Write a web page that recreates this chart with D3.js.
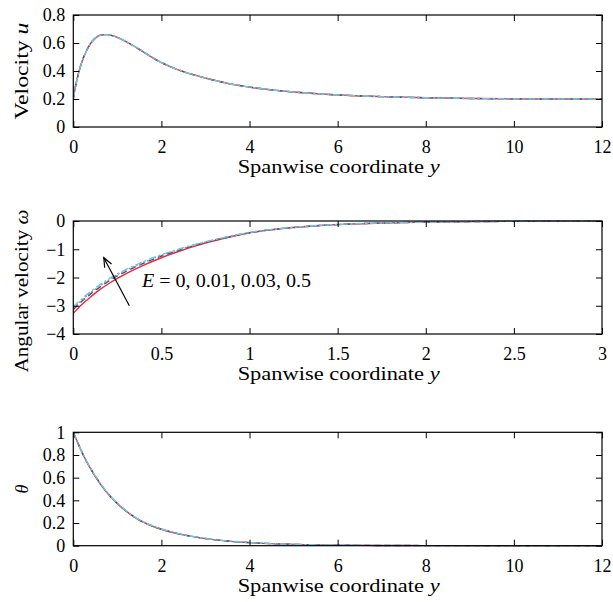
<!DOCTYPE html>
<html><head><meta charset="utf-8">
<script src="https://cdn.jsdelivr.net/npm/d3@7"></script>
<style>body{margin:0;background:#fff}svg{display:block}text{font-family:"Liberation Serif","Times New Roman",serif;fill:#000}</style>
</head><body>
<script>
// ---------- data ----------
const seriesNames = ["E = 0", "E = 0.01", "E = 0.03", "E = 0.5"];

const xU = [0,0.05,0.1,0.15,0.2,0.3,0.4,0.5,0.6,0.7,0.8,1.0,1.25,1.5,1.75,2,2.5,3,3.5,4,4.5,5,6,7,8,9,10,11,12];
const uE0   = [0.2,0.29,0.36,0.42,0.47,0.545,0.6,0.635,0.655,0.66,0.658,0.64,0.6,0.555,0.505,0.46,0.395,0.35,0.312,0.285,0.265,0.25,0.229,0.217,0.209,0.204,0.201,0.2,0.2];
const uE001 = [0.2,0.29,0.36,0.42,0.47,0.545,0.6,0.635,0.655,0.66,0.658,0.64,0.6,0.555,0.505,0.46,0.395,0.35,0.312,0.285,0.265,0.25,0.229,0.217,0.209,0.204,0.201,0.2,0.2];
const uE003 = [0.2,0.29,0.36,0.42,0.47,0.545,0.6,0.635,0.655,0.66,0.658,0.64,0.6,0.555,0.505,0.46,0.395,0.35,0.312,0.285,0.265,0.25,0.229,0.217,0.209,0.204,0.201,0.2,0.2];
const uE05  = [0.2,0.29,0.36,0.42,0.47,0.545,0.6,0.635,0.655,0.66,0.658,0.64,0.6,0.555,0.505,0.46,0.395,0.35,0.312,0.285,0.265,0.25,0.229,0.217,0.209,0.204,0.201,0.2,0.2];

const xW = [0,0.05,0.1,0.15,0.2,0.25,0.3,0.4,0.5,0.6,0.7,0.8,0.9,1.0,1.2,1.4,1.6,1.8,2.0,2.25,2.5,2.75,3];
const wE0   = [-3.27,-2.95,-2.68,-2.43,-2.22,-2.03,-1.86,-1.56,-1.3,-1.07,-0.87,-0.7,-0.55,-0.42,-0.26,-0.16,-0.1,-0.065,-0.04,-0.022,-0.012,-0.006,-0.003];
const wE001 = [-3.13,-2.83,-2.57,-2.34,-2.13,-1.94,-1.78,-1.49,-1.24,-1.03,-0.84,-0.68,-0.54,-0.415,-0.26,-0.16,-0.1,-0.065,-0.04,-0.022,-0.012,-0.006,-0.003];
const wE003 = [-3.08,-2.79,-2.53,-2.3,-2.09,-1.9,-1.74,-1.46,-1.21,-1.01,-0.83,-0.67,-0.53,-0.41,-0.255,-0.158,-0.1,-0.065,-0.04,-0.022,-0.012,-0.006,-0.003];
const wE05  = [-3.03,-2.74,-2.49,-2.26,-2.05,-1.87,-1.71,-1.43,-1.19,-0.99,-0.81,-0.66,-0.52,-0.40,-0.25,-0.155,-0.098,-0.064,-0.04,-0.022,-0.012,-0.006,-0.003];

const xT = [0,0.25,0.5,0.75,1,1.25,1.5,1.75,2,2.5,3,3.5,4,5,6,7,8,10,12];
const tE0   = [1,0.78,0.61,0.475,0.37,0.29,0.225,0.18,0.145,0.095,0.062,0.04,0.027,0.012,0.005,0.002,0.001,0,0];
const tE001 = [1,0.782,0.612,0.477,0.372,0.291,0.226,0.181,0.146,0.096,0.063,0.041,0.027,0.012,0.005,0.002,0.001,0,0];
const tE003 = [1,0.783,0.613,0.478,0.373,0.292,0.227,0.182,0.147,0.096,0.063,0.041,0.028,0.012,0.005,0.002,0.001,0,0];
const tE05  = [1,0.785,0.615,0.48,0.375,0.293,0.228,0.183,0.148,0.097,0.064,0.042,0.028,0.012,0.005,0.002,0.001,0,0];

const xTicksU = [0,2,4,6,8,10,12], yTicksU = [0,0.2,0.4,0.6,0.8];
const xTicksW = [0,0.5,1,1.5,2,2.5,3], yTicksW = [-4,-3,-2,-1,0];
const xTicksT = [0,2,4,6,8,10,12], yTicksT = [0,0.2,0.4,0.6,0.8,1];

// ---------- layout / style ----------
const W = 613, H = 602, L = 73.3, R = 602;
const styles = [
  {color:"#f0282a", dash:null},
  {color:"#2f4fa2", dash:"6,4"},
  {color:"#9a90b4", dash:"2,2"},
  {color:"#6ccad8", dash:"7,3,2,3"}
];
const drawOrder = [0,1,2,3];
const fmt = v => (v < 0 ? "\u2212" + Math.abs(v) : String(v));

const panels = [
  {top:15, bottom:127, xd:[0,12], yd:[0,0.8], xt:xTicksU, yt:yTicksU, x:xU, ys:[uE0,uE001,uE003,uE05], ylab:["Velocity ","u"], ly:71, llen:97},
  {top:221, bottom:334, xd:[0,3], yd:[-4,0], xt:xTicksW, yt:yTicksW, x:xW, ys:[wE0,wE001,wE003,wE05], ylab:["Angular velocity ","\u03c9"], ly:291, llen:163},
  {top:432.3, bottom:545.7, xd:[0,12], yd:[0,1], xt:xTicksT, yt:yTicksT, x:xT, ys:[tE0,tE001,tE003,tE05], ylab:["","\u03b8"], ly:489, llen:0}
];

const svg = d3.select("body").append("svg").attr("width", W).attr("height", H);

panels.forEach((p, pi) => {
  const x = d3.scaleLinear().domain(p.xd).range([L, R]);
  const y = d3.scaleLinear().domain(p.yd).range([p.bottom, p.top]);
  const g = svg.append("g");
  const clipId = "clip" + pi;
  svg.append("clipPath").attr("id", clipId).append("rect")
    .attr("x", L).attr("y", p.top - 2).attr("width", R - L + 1).attr("height", p.bottom - p.top + 4);

  // curves
  const line = d3.line().x(d => x(d[0])).y(d => y(d[1])).curve(d3.curveMonotoneX);
  const cg = g.append("g").attr("clip-path", `url(#${clipId})`);
  drawOrder.forEach(si => {
    const pts = p.x.map((xv, i) => [xv, p.ys[si][i]]);
    cg.append("path").datum(pts).attr("d", line)
      .attr("fill", "none").attr("stroke", styles[si].color)
      .attr("stroke-width", 1.4)
      .attr("stroke-dasharray", styles[si].dash);
  });

  // axes with inward ticks on all sides
  const ax = (gen, tr, ticks, labels) => {
    const a = g.append("g").attr("transform", tr).call(gen.tickValues(ticks).tickSizeInner(-6).tickSizeOuter(0).tickFormat(labels ? fmt : ""));
    a.select(".domain").remove();
    a.selectAll("line").attr("stroke", "#000").attr("stroke-width", 1);
    return a;
  };
  const bx = ax(d3.axisBottom(x), `translate(0,${p.bottom})`, p.xt, true);
  bx.selectAll("text").attr("y", 26).attr("dy", null).attr("font-size", 18);
  ax(d3.axisTop(x), `translate(0,${p.top})`, p.xt, false);
  const lyAx = ax(d3.axisLeft(y), `translate(${L},0)`, p.yt, true);
  lyAx.selectAll("text").attr("x", -8).attr("dy", "0.33em").attr("font-size", 18);
  ax(d3.axisRight(y), `translate(${R},0)`, p.yt, false);

  g.append("rect").attr("x", L).attr("y", p.top).attr("width", R - L).attr("height", p.bottom - p.top)
    .attr("fill", "none").attr("stroke", "#000").attr("stroke-width", 1.2);

  // x label
  const xl = g.append("text").attr("x", (L + R) / 2 + 1).attr("y", p.bottom + 46)
    .attr("text-anchor", "middle").attr("font-size", 18)
    .attr("textLength", 202).attr("lengthAdjust", "spacingAndGlyphs");
  xl.append("tspan").text("Spanwise coordinate ");
  xl.append("tspan").attr("font-style", "italic").text("y");

  // y label
  const yl = g.append("text").attr("transform", `translate(28,${p.ly}) rotate(-90)`)
    .attr("text-anchor", "middle").attr("font-size", 18);
  if (p.ylab[0]) {
    yl.attr("textLength", p.llen).attr("lengthAdjust", "spacingAndGlyphs");
    yl.append("tspan").text(p.ylab[0]);
  }
  yl.append("tspan").attr("font-style", "italic").text(p.ylab[1]);

  // annotation in angular-velocity panel
  if (pi === 1) {
    const ann = g.append("text").attr("x", 142).attr("y", 287).attr("font-size", 19)
      .attr("textLength", 169).attr("lengthAdjust", "spacingAndGlyphs");
    ann.append("tspan").attr("font-style", "italic").text("E");
    ann.append("tspan").text(" = 0, 0.01, 0.03, 0.5");
    const x0 = x(0.318), y0 = y(-3.00), x1 = x(0.173), y1 = y(-1.3);
    g.append("line").attr("x1", x0).attr("y1", y0).attr("x2", x1).attr("y2", y1)
      .attr("stroke", "#000").attr("stroke-width", 1.2);
    const ang = Math.atan2(y0 - y1, x0 - x1), hl = 10, spread = 0.4;
    const head = [[x1 + hl * Math.cos(ang - spread), y1 + hl * Math.sin(ang - spread)], [x1, y1],
                  [x1 + hl * Math.cos(ang + spread), y1 + hl * Math.sin(ang + spread)]];
    g.append("path").attr("d", d3.line()(head)).attr("fill", "none").attr("stroke", "#000").attr("stroke-width", 1.2);
  }
});
</script>
</body></html>
